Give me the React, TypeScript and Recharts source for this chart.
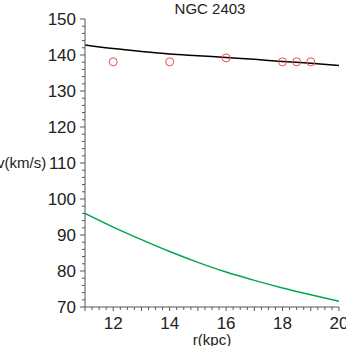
import React from 'react';
import { ComposedChart, Line, Scatter, XAxis, YAxis } from 'recharts';

// radius in kpc
const radii = [11, 12, 13, 14, 15, 16, 17, 18, 19, 20];
// model curve (black) and second component (green), km/s
const modelV = [142.8, 141.8, 141.0, 140.3, 139.8, 139.3, 138.8, 138.2, 137.7, 137.1];
const greenV = [96.0, 92.2, 88.7, 85.4, 82.4, 79.7, 77.4, 75.3, 73.4, 71.6];

// observed points
const obsR = [12, 14, 16, 18, 18.5, 19];
const obsV = [138.1, 138.1, 139.2, 138.1, 138.1, 138.1];

const xLabels = [12, 14, 16, 18, 20];
const yLabels = [70, 80, 90, 100, 110, 120, 130, 140, 150];

const modelData = radii.map((r, i) => ({ r, v: modelV[i] }));
const greenData = radii.map((r, i) => ({ r, v: greenV[i] }));
const obsData = obsR.map((r, i) => ({ r, v: obsV[i] }));

// minor tick positions (style only)
const xTicks: number[] = [];
for (let i = 0; i <= 36; i++) xTicks.push(11 + i * 0.25);
const yTicks: number[] = [];
for (let i = 0; i <= 40; i++) yTicks.push(70 + i * 2);

const axisColor = '#555';
const tickFont = '"Liberation Sans Narrow", "Liberation Sans", Arial, sans-serif';
const labelFont = '"Liberation Sans", Arial, sans-serif';

const XTick = (props: any) => {
  const { x, y, payload } = props;
  const v = payload.value;
  const major = Math.abs(v - Math.round(v)) < 1e-6;
  const labeled = xLabels.includes(v);
  return (
    <g>
      <line x1={x} x2={x} y1={y} y2={y + (major ? 4 : 3)} stroke={axisColor} strokeWidth={1} />
      {labeled && (
        <text x={x} y={y + 22} textAnchor="middle" fontSize={17} fontFamily={tickFont} fill="#222">
          {v}
        </text>
      )}
    </g>
  );
};

const YTick = (props: any) => {
  const { x, y, payload } = props;
  const v = payload.value;
  const labeled = yLabels.includes(v);
  return (
    <g>
      <line x1={x} x2={x - (labeled ? 5 : 3)} y1={y} y2={y} stroke={axisColor} strokeWidth={1} />
      {labeled && (
        <text x={x - 9} y={y + 6} textAnchor="end" fontSize={17} fontFamily={tickFont} fill="#222">
          {v}
        </text>
      )}
    </g>
  );
};

export default function App() {
  return (
    <div style={{ position: 'absolute', left: 0, top: 0, width: 346, height: 346, background: '#fff', overflow: 'hidden' }}>
      <ComposedChart width={346} height={346} margin={{ top: 19, right: 7, bottom: 0, left: 0 }}>
        <XAxis
          type="number"
          dataKey="r"
          domain={[11, 20]}
          ticks={xTicks}
          interval={0}
          height={39}
          tickSize={0}
          tickMargin={0}
          tickLine={false}
          axisLine={{ stroke: axisColor }}
          tick={<XTick />}
          allowDataOverflow
        />
        <YAxis
          type="number"
          dataKey="v"
          domain={[70, 150]}
          ticks={yTicks}
          interval={0}
          width={85}
          tickSize={0}
          tickMargin={0}
          tickLine={false}
          axisLine={{ stroke: axisColor }}
          tick={<YTick />}
          allowDataOverflow
        />
        <Line data={greenData} dataKey="v" type="monotone" stroke="#00a651" strokeWidth={1.5} dot={false} isAnimationActive={false} />
        <Line data={modelData} dataKey="v" type="monotone" stroke="#000" strokeWidth={1.5} dot={false} isAnimationActive={false} />
        <Scatter
          data={obsData}
          dataKey="v"
          isAnimationActive={false}
          shape={(p: any) => <circle cx={p.cx} cy={p.cy} r={4} fill="none" stroke="#f24a4a" strokeWidth={1} />}
        />
      </ComposedChart>
      <div style={{ position: 'absolute', left: 0, width: 420, top: 0, textAlign: 'center', fontFamily: labelFont, fontSize: 15, lineHeight: '17px', color: '#222' }}>
        NGC 2403
      </div>
      <div style={{ position: 'absolute', left: -3, top: 154, fontFamily: labelFont, fontSize: 15, lineHeight: '17px', color: '#222' }}>
        v(km/s)
      </div>
      <div style={{ position: 'absolute', left: 0, width: 424, top: 331, textAlign: 'center', fontFamily: labelFont, fontSize: 15, lineHeight: '17px', color: '#222' }}>
        r(kpc)
      </div>
    </div>
  );
}
